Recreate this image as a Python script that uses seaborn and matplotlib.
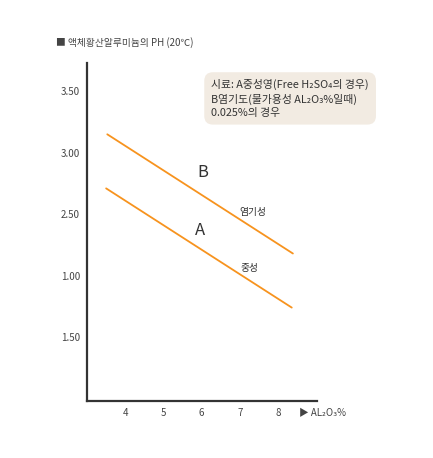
import matplotlib
matplotlib.use("Agg")
import matplotlib.pyplot as plt
import pandas as pd
import seaborn as sns

sns.set_style("white")
plt.rcParams['font.family'] = ['Noto Sans CJK KR', 'DejaVu Sans']

# 데이터
series = ['A', 'A', 'B', 'B']
al2o3 = [3.5, 8.36, 3.53, 8.39]
ph = [2.71, 1.74, 3.15, 2.18]
y_ticks = [3.5, 3.0, 2.5, 2.0, 1.5]
y_tick_labels = ['3.50', '3.00', '2.50', '1.00', '1.50']
x_ticks = [4, 5, 6, 7, 8]

df = pd.DataFrame({'series': series, 'AL2O3': al2o3, 'PH': ph})

fig = plt.figure(figsize=(4.33, 4.58), dpi=100)
ax = fig.add_axes([0.201, 0.1245, 0.531, 0.7379])

sns.lineplot(data=df, x='AL2O3', y='PH', units='series', estimator=None,
             color='#f7931e', linewidth=1.3, ax=ax, legend=False)

ax.set_xlim(3.0, 9.02)
ax.set_ylim(0.98, 3.73)
ax.set_xticks(x_ticks)
ax.set_xticklabels([str(t) for t in x_ticks])
ax.set_yticks(y_ticks)
ax.set_yticklabels(y_tick_labels)
ax.set_xlabel('')
ax.set_ylabel('')

for side in ['top', 'right']:
    ax.spines[side].set_visible(False)
for side in ['left', 'bottom']:
    ax.spines[side].set_color('#333333')
    ax.spines[side].set_linewidth(1.6)
ax.tick_params(axis='both', direction='inout', length=4, width=1.2,
               color='#333333', labelsize=7, labelcolor='#444444', pad=3)

# 선 라벨
ax.text(6.04, 2.84, 'B', fontsize=12, color='#333333', ha='center', va='center')
ax.text(5.96, 2.37, 'A', fontsize=12, color='#333333', ha='center', va='center')
ax.text(7.34, 2.52, '염기성', fontsize=7, color='#333333', ha='center', va='center')
ax.text(7.26, 2.06, '중성', fontsize=7, color='#333333', ha='center', va='center')

# 제목, 축 이름
fig.text(0.13, 0.908, '■ 액체황산알루미늄의 PH (20℃)', fontsize=7,
         color='#444444', ha='left', va='center')
fig.text(0.69, 0.098, '▶ AL₂O₃%', fontsize=7, color='#444444',
         ha='left', va='center')

# 설명 박스
fig.text(0.488, 0.785,
         '시료: A중성영(Free H₂SO₄의 경우)\nB염기도(물가용성 AL₂O₃%일때)\n0.025%의 경우',
         fontsize=7.8, color='#333333', ha='left', va='center', linespacing=1.35,
         bbox=dict(boxstyle='round,pad=0.65,rounding_size=0.8',
                   facecolor='#f2ebe2', edgecolor='none'))

fig.savefig('out.png', dpi=100)
